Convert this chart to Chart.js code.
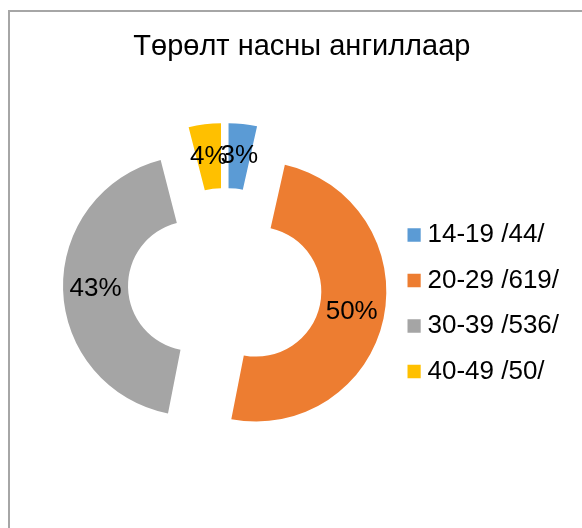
<!DOCTYPE html>
<html>
<head>
<meta charset="utf-8">
<script src="https://cdn.jsdelivr.net/npm/chart.js@4.4.1/dist/chart.umd.min.js"></script>
<style>
  html, body { margin: 0; padding: 0; background: #fff; overflow: hidden; }
  #frame { position: absolute; left: 8px; top: 10px; width: 700px; height: 700px;
           border-left: 2px solid #a6a6a6; border-top: 2px solid #a6a6a6; }
  #myChart { position: absolute; left: 0; top: 0; }
</style>
</head>
<body>
<div id="frame"></div>
<canvas id="myChart" width="582" height="528"></canvas>
<script>
var categories = ["14-19 /44/", "20-29 /619/", "30-39 /536/", "40-49 /50/"];
var births = [44, 619, 536, 50];
var colors = ["#5B9BD5", "#ED7D31", "#A5A5A5", "#FFC000"];
var chartTitle = "Төрөлт насны ангиллаар";

var explode = 32;
var fontFamily = "'Liberation Sans', Arial, sans-serif";

// percentages that add up to 100 (largest remainder)
function roundedPercents(vals) {
    var total = vals.reduce(function (a, b) { return a + b; }, 0);
    var raw = vals.map(function (v) { return v / total * 100; });
    var out = raw.map(Math.floor);
    var left = 100 - out.reduce(function (a, b) { return a + b; }, 0);
    raw.map(function (r, i) { return [r - Math.floor(r), i]; })
        .sort(function (a, b) { return b[0] - a[0]; })
        .slice(0, left)
        .forEach(function (p) { out[p[1]]++; });
    return out;
}
var percents = roundedPercents(births);

// pull every slice out from the centre, like an exploded pie
var Arc = Chart.registry.getElement('arc');
var arcDraw = Arc.prototype.draw;
Arc.prototype.draw = function (ctx) {
    var mid = (this.startAngle + this.endAngle) / 2;
    ctx.save();
    ctx.translate(Math.cos(mid) * explode, Math.sin(mid) * explode);
    arcDraw.call(this, ctx);
    ctx.restore();
};

var percentLabels = {
    id: 'percentLabels',
    afterDatasetsDraw: function (chart) {
        var ctx = chart.ctx;
        var meta = chart.getDatasetMeta(0);
        ctx.save();
        ctx.font = "26px " + fontFamily;
        ctx.fillStyle = "#000";
        ctx.textAlign = "center";
        ctx.textBaseline = "middle";
        meta.data.forEach(function (arc, i) {
            var p = arc.getCenterPoint();
            var mid = (arc.startAngle + arc.endAngle) / 2;
            ctx.fillText(percents[i] + "%", p.x + Math.cos(mid) * explode, p.y + Math.sin(mid) * explode);
        });
        ctx.restore();
    }
};

var ctx = document.getElementById("myChart");

var myChart = new Chart(ctx, {
    type: 'doughnut',
    data: {
        labels: categories,
        datasets: [
            {
                data: births,
                backgroundColor: colors,
                borderWidth: 0,
                radius: 130,
                clip: false
            }
        ]
    },
    options: {
        responsive: false,
        animation: false,
        events: [],
        cutout: '50%',
        layout: {
            padding: { left: 42.7, right: 21, top: 0, bottom: 124 }
        },
        plugins: {
            tooltip: { enabled: false },
            title: {
                display: true,
                text: chartTitle,
                color: '#000',
                font: { family: fontFamily, size: 29, weight: 'normal', lineHeight: '34px' },
                padding: { top: 30, bottom: 102 }
            },
            legend: {
                position: 'right',
                align: 'end',
                fullSize: false,
                maxWidth: 153.7,
                labels: {
                    color: '#000',
                    font: { family: fontFamily, size: 26, lineHeight: '39.3px' },
                    padding: 6.2,
                    boxWidth: 1,
                    boxHeight: 1,
                    generateLabels: function (chart) {
                        var items = Chart.overrides.doughnut.plugins.legend.labels.generateLabels(chart);
                        return items.map(function (item) {
                            item.text = [item.text];
                            item.strokeStyle = item.fillStyle;
                            item.lineWidth = 12.4;
                            item.lineJoin = 'miter';
                            return item;
                        });
                    }
                }
            }
        }
    },
    plugins: [percentLabels]
});
</script>
</body>
</html>
